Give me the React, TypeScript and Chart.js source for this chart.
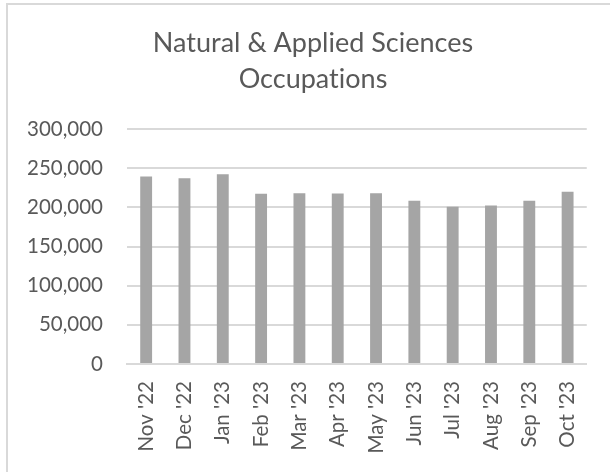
import React, { useEffect, useRef } from "react";
import { Chart, registerables } from "chart.js";

Chart.register(...registerables);

const months = ["Nov '22", "Dec '22", "Jan '23", "Feb '23", "Mar '23", "Apr '23", "May '23", "Jun '23", "Jul '23", "Aug '23", "Sep '23", "Oct '23"];
const employment = [239300, 237200, 242300, 217200, 218100, 217600, 218100, 208300, 200600, 202300, 208300, 219800];
const titleLines = ["Natural & Applied Sciences", "Occupations"];
const yMin = 0;
const yMax = 300000;
const yStep = 50000;

const TEXT_COLOR = "#595959";
const FONT = "Lato";

const titlePlugin = {
  id: "offsetTitle",
  afterDraw(chart: any) {
    const ctx = chart.ctx;
    ctx.save();
    ctx.fillStyle = TEXT_COLOR;
    ctx.font = `27px ${FONT}`;
    ctx.textAlign = "center";
    ctx.textBaseline = "alphabetic";
    try {
      (ctx as any).letterSpacing = "0.01px";
    } catch (e) {}
    const cx = 313;
    titleLines.forEach((line, i) => {
      ctx.fillText(line, cx, 52 + i * 36);
    });
    ctx.restore();
  },
};

export default function App() {
  const ref = useRef<HTMLCanvasElement | null>(null);

  useEffect(() => {
    if (!ref.current) return;
    const chart = new Chart(ref.current, {
      type: "bar",
      data: {
        labels: months,
        datasets: [
          {
            data: employment,
            backgroundColor: "#a5a5a5",
            borderWidth: 0,
            barPercentage: 0.31,
            categoryPercentage: 1,
          },
        ],
      },
      options: {
        animation: false,
        responsive: false,
        maintainAspectRatio: false,
        layout: { padding: { left: 0, right: 19, top: 129, bottom: 0 } },
        plugins: {
          legend: { display: false },
          tooltip: { enabled: false },
          title: { display: false },
        },
        scales: {
          x: {
            grid: { display: false, drawTicks: false },
            border: { display: true, color: "#d9d9d9", width: 2 },
            ticks: {
              color: TEXT_COLOR,
              font: { family: FONT, size: 20.5 },
              minRotation: 90,
              maxRotation: 90,
              padding: 17,
              autoSkip: false,
            },
            afterFit: (scale: any) => {
              scale.height = 108;
            },
          },
          y: {
            min: yMin,
            max: yMax,
            grid: { color: "#d9d9d9", lineWidth: 2, drawTicks: false },
            border: { display: false },
            ticks: {
              stepSize: yStep,
              color: TEXT_COLOR,
              font: { family: FONT, size: 20.5 },
              padding: 24,
              callback: (v: any) => Number(v).toLocaleString("en-US"),
            },
            afterFit: (scale: any) => {
              scale.width = 127;
            },
          },
        },
      },
      plugins: [titlePlugin],
    });
    return () => chart.destroy();
  }, []);

  return (
    <div style={{ position: "fixed", left: 0, top: 0, width: 610, height: 472, overflow: "hidden", background: "#fff" }}>
      <div
        style={{
          position: "absolute",
          left: 6,
          top: 3,
          width: 800,
          height: 800,
          borderLeft: "2px solid #d9d9d9",
          borderTop: "2px solid #d9d9d9",
        }}
      />
      <canvas ref={ref} width={610} height={472} style={{ position: "absolute", left: 0, top: 0 }} />
    </div>
  );
}
